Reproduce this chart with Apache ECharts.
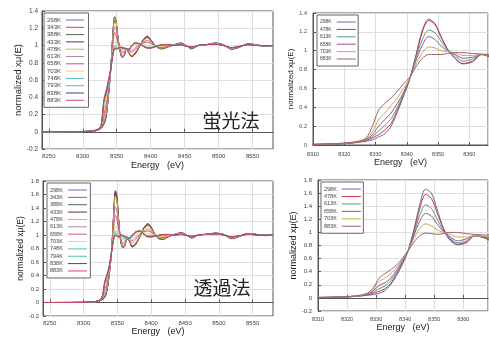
<!DOCTYPE html>
<html>
<head>
<meta charset="utf-8">
<script src="https://cdn.jsdelivr.net/npm/echarts@6.0.0/dist/echarts.min.js"></script>
<style>
  html, body { margin: 0; padding: 0; background: #fff; }
  #main { width: 489px; height: 337px; }
</style>
</head>
<body>
<div id="main"></div>
<script>
// energy grid (eV), shared by all spectra
var energy = [8240, 8300, 8318, 8324, 8327, 8329, 8331, 8333, 8335, 8337, 8339, 8341, 8343, 8345, 8347, 8349, 8351, 8353, 8355, 8358, 8361, 8364, 8368,
    8372, 8377, 8383, 8389, 8395, 8401, 8408, 8416, 8425, 8435, 8445, 8452, 8460, 8470, 8482, 8495, 8507, 8519, 8531, 8543, 8556, 8568, 8580];

// tick labels
var wideTicks = [8250, 8300, 8350, 8400, 8450, 8500, 8550];

// legend names
var fluoLabels = ['298K', '343K', '388K', '433K', '478K', '613K', '658K', '703K', '748K', '793K', '838K', '883K'];
var transLabels = ['298K', '343K', '388K', '433K', '478K', '613K', '658K', '703K', '748K', '794K', '838K', '883K'];
var zoomLabels = ['298K', '478K', '613K', '658K', '703K', '883K'];

// 蛍光法 (fluorescence)
var fluo298 = [0, 0.002, 0.01, 0.025, 0.04, 0.055, 0.085, 0.12, 0.2, 0.35, 0.52, 0.7, 0.96, 1.22, 1.335, 1.29, 1.15, 1.02, 0.93, 0.86, 0.88, 0.96, 0.91,
    0.87, 0.9, 0.98, 1.07, 1.11, 1.06, 0.99, 0.96, 0.98, 1.01, 1.03, 1.0, 0.96, 1.0, 1.01, 1.03, 1.01, 0.955, 0.98, 1.02, 1.01, 0.99, 1.0];
var fluo343 = [0, 0.002, 0.01, 0.025, 0.04, 0.06, 0.09, 0.13, 0.21, 0.35, 0.52, 0.7, 0.96, 1.21, 1.33, 1.285, 1.145, 1.02, 0.93, 0.862, 0.882, 0.958, 0.912,
    0.872, 0.9, 0.98, 1.065, 1.105, 1.055, 0.99, 0.962, 0.982, 1.01, 1.028, 1.0, 0.962, 1.0, 1.01, 1.028, 1.008, 0.958, 0.982, 1.018, 1.008, 0.992, 1.0];
var fluo388 = [0, 0.002, 0.01, 0.026, 0.042, 0.065, 0.095, 0.14, 0.215, 0.36, 0.525, 0.7, 0.955, 1.21, 1.325, 1.28, 1.14, 1.02, 0.935, 0.865, 0.885, 0.958, 0.915,
    0.875, 0.905, 0.982, 1.06, 1.1, 1.05, 0.99, 0.964, 0.984, 1.01, 1.026, 1.0, 0.964, 1.0, 1.01, 1.026, 1.006, 0.96, 0.984, 1.016, 1.006, 0.994, 1.0];
var fluo433 = [0, 0.002, 0.011, 0.027, 0.045, 0.07, 0.1, 0.15, 0.22, 0.365, 0.53, 0.705, 0.955, 1.205, 1.32, 1.28, 1.14, 1.02, 0.935, 0.865, 0.885, 0.958, 0.915,
    0.878, 0.91, 0.985, 1.06, 1.095, 1.045, 0.99, 0.966, 0.985, 1.008, 1.025, 1.0, 0.966, 1.0, 1.01, 1.025, 1.005, 0.962, 0.985, 1.015, 1.005, 0.995, 1.0];
var fluo478 = [0, 0.002, 0.012, 0.028, 0.048, 0.075, 0.11, 0.16, 0.23, 0.37, 0.53, 0.71, 0.95, 1.2, 1.32, 1.28, 1.14, 1.02, 0.94, 0.865, 0.89, 0.96, 0.92,
    0.885, 0.92, 0.99, 1.05, 1.085, 1.04, 0.99, 0.968, 0.987, 1.007, 1.022, 1.0, 0.968, 1.0, 1.01, 1.024, 1.004, 0.964, 0.986, 1.014, 1.004, 0.995, 1.0];
var fluo613 = [0, 0.002, 0.013, 0.03, 0.055, 0.09, 0.15, 0.21, 0.28, 0.4, 0.54, 0.71, 0.93, 1.12, 1.22, 1.19, 1.1, 1.01, 0.96, 0.89, 0.91, 0.96, 0.93,
    0.92, 0.95, 1.0, 1.04, 1.06, 1.03, 0.99, 0.975, 0.99, 1.005, 1.018, 1.0, 0.972, 1.0, 1.01, 1.022, 1.003, 0.968, 0.988, 1.012, 1.003, 0.996, 1.0];
var fluo658 = [0, 0.002, 0.014, 0.032, 0.06, 0.11, 0.2, 0.27, 0.34, 0.44, 0.56, 0.71, 0.9, 1.06, 1.15, 1.12, 1.05, 1.0, 0.97, 0.92, 0.93, 0.96, 0.94,
    0.94, 0.97, 1.01, 1.03, 1.04, 1.02, 0.99, 0.98, 0.995, 1.005, 1.015, 1.0, 0.975, 1.0, 1.01, 1.02, 1.002, 0.97, 0.99, 1.01, 1.002, 0.997, 1.0];
var fluo703 = [0, 0.002, 0.015, 0.034, 0.065, 0.14, 0.27, 0.34, 0.42, 0.5, 0.6, 0.71, 0.86, 0.98, 1.04, 1.03, 1.0, 0.99, 0.98, 0.95, 0.95, 0.96, 0.95,
    0.97, 1.0, 1.02, 1.01, 1.0, 0.995, 0.99, 0.99, 1.0, 1.003, 1.012, 0.998, 0.978, 1.0, 1.01, 1.018, 1.0, 0.972, 0.99, 1.01, 1.002, 0.997, 1.0];
var fluo748 = [0, 0.002, 0.015, 0.035, 0.068, 0.16, 0.32, 0.39, 0.45, 0.53, 0.62, 0.715, 0.84, 0.95, 1.0, 0.99, 0.975, 0.98, 0.98, 0.96, 0.96, 0.965, 0.955,
    0.99, 1.02, 1.025, 1.0, 0.98, 0.98, 0.99, 1.0, 1.005, 1.002, 1.01, 0.995, 0.98, 1.0, 1.01, 1.017, 1.0, 0.973, 0.99, 1.01, 1.001, 0.997, 1.0];
var fluo793 = [0, 0.002, 0.015, 0.036, 0.07, 0.18, 0.34, 0.4, 0.46, 0.54, 0.63, 0.715, 0.83, 0.93, 0.98, 0.975, 0.965, 0.975, 0.98, 0.97, 0.965, 0.965, 0.955,
    0.995, 1.025, 1.025, 0.995, 0.975, 0.975, 0.99, 1.005, 1.008, 1.0, 1.01, 0.993, 0.98, 1.0, 1.01, 1.016, 1.0, 0.974, 0.99, 1.01, 1.001, 0.997, 1.0];
var fluo838 = [0, 0.002, 0.016, 0.037, 0.072, 0.19, 0.36, 0.42, 0.47, 0.55, 0.64, 0.72, 0.82, 0.92, 0.965, 0.965, 0.96, 0.97, 0.98, 0.975, 0.97, 0.965, 0.955,
    1.0, 1.03, 1.022, 0.99, 0.97, 0.972, 0.99, 1.008, 1.01, 1.0, 1.008, 0.992, 0.981, 1.0, 1.01, 1.015, 1.0, 0.975, 0.99, 1.01, 1.0, 0.997, 1.0];
var fluo883 = [0, 0.002, 0.016, 0.038, 0.075, 0.2, 0.37, 0.44, 0.5, 0.57, 0.65, 0.72, 0.83, 0.92, 0.96, 0.96, 0.96, 0.97, 0.98, 0.98, 0.97, 0.965, 0.955,
    1.0, 1.03, 1.02, 0.99, 0.97, 0.97, 0.99, 1.01, 1.01, 1.0, 1.008, 0.99, 0.982, 1.0, 1.01, 1.015, 1.0, 0.975, 0.99, 1.01, 1.0, 0.997, 1.0];

// 透過法 (transmission)
var trans298 = [0, 0.002, 0.01, 0.025, 0.04, 0.05, 0.07, 0.11, 0.2, 0.34, 0.51, 0.72, 1.04, 1.42, 1.66, 1.6, 1.35, 1.08, 0.9, 0.81, 0.84, 0.95, 0.9,
    0.82, 0.86, 0.97, 1.11, 1.17, 1.1, 0.97, 0.93, 0.97, 1.01, 1.035, 1.0, 0.955, 1.0, 1.01, 1.03, 1.01, 0.945, 0.98, 1.025, 1.01, 0.99, 1.0];
var trans343 = [0, 0.002, 0.01, 0.025, 0.041, 0.053, 0.075, 0.115, 0.205, 0.345, 0.51, 0.72, 1.035, 1.41, 1.65, 1.59, 1.34, 1.075, 0.9, 0.812, 0.842, 0.95, 0.9,
    0.823, 0.862, 0.972, 1.105, 1.165, 1.095, 0.972, 0.932, 0.972, 1.01, 1.033, 1.0, 0.957, 1.0, 1.01, 1.028, 1.009, 0.947, 0.981, 1.023, 1.009, 0.991, 1.0];
var trans388 = [0, 0.002, 0.01, 0.026, 0.042, 0.056, 0.08, 0.12, 0.21, 0.35, 0.515, 0.72, 1.03, 1.4, 1.64, 1.58, 1.33, 1.075, 0.905, 0.815, 0.845, 0.95, 0.905,
    0.827, 0.866, 0.975, 1.1, 1.16, 1.09, 0.974, 0.935, 0.974, 1.009, 1.031, 1.0, 0.959, 1.0, 1.01, 1.027, 1.008, 0.95, 0.982, 1.021, 1.008, 0.992, 1.0];
var trans433 = [0, 0.002, 0.011, 0.027, 0.044, 0.06, 0.09, 0.13, 0.215, 0.355, 0.52, 0.72, 1.025, 1.38, 1.62, 1.56, 1.32, 1.07, 0.91, 0.818, 0.848, 0.95, 0.905,
    0.832, 0.872, 0.978, 1.095, 1.15, 1.085, 0.976, 0.938, 0.976, 1.008, 1.03, 1.0, 0.96, 1.0, 1.01, 1.026, 1.007, 0.952, 0.983, 1.02, 1.007, 0.993, 1.0];
var trans478 = [0, 0.002, 0.012, 0.028, 0.047, 0.07, 0.1, 0.14, 0.22, 0.36, 0.52, 0.72, 1.02, 1.36, 1.58, 1.52, 1.3, 1.07, 0.92, 0.82, 0.85, 0.95, 0.91,
    0.845, 0.885, 0.985, 1.085, 1.135, 1.075, 0.978, 0.942, 0.978, 1.007, 1.027, 1.0, 0.962, 1.0, 1.01, 1.025, 1.006, 0.955, 0.984, 1.018, 1.006, 0.994, 1.0];
var trans613 = [0, 0.002, 0.013, 0.03, 0.055, 0.09, 0.14, 0.18, 0.26, 0.39, 0.54, 0.72, 0.98, 1.26, 1.42, 1.37, 1.2, 1.04, 0.93, 0.84, 0.87, 0.95, 0.92,
    0.89, 0.93, 1.0, 1.06, 1.09, 1.05, 0.982, 0.955, 0.983, 1.006, 1.022, 1.0, 0.966, 1.0, 1.01, 1.023, 1.005, 0.96, 0.986, 1.015, 1.005, 0.995, 1.0];
var trans658 = [0, 0.002, 0.014, 0.032, 0.06, 0.11, 0.19, 0.23, 0.3, 0.42, 0.56, 0.72, 0.95, 1.17, 1.29, 1.25, 1.13, 1.02, 0.95, 0.87, 0.9, 0.95, 0.93,
    0.92, 0.96, 1.015, 1.045, 1.06, 1.035, 0.985, 0.965, 0.988, 1.005, 1.018, 1.0, 0.97, 1.0, 1.01, 1.02, 1.004, 0.964, 0.988, 1.013, 1.004, 0.996, 1.0];
var trans703 = [0, 0.002, 0.015, 0.034, 0.065, 0.13, 0.25, 0.3, 0.37, 0.46, 0.58, 0.72, 0.9, 1.06, 1.13, 1.1, 1.04, 1.0, 0.98, 0.93, 0.93, 0.95, 0.94,
    0.96, 1.0, 1.04, 1.03, 1.02, 1.01, 0.99, 0.98, 0.995, 1.003, 1.013, 0.998, 0.975, 1.0, 1.01, 1.018, 1.002, 0.968, 0.99, 1.011, 1.003, 0.997, 1.0];
var trans748 = [0, 0.002, 0.015, 0.035, 0.068, 0.14, 0.27, 0.32, 0.39, 0.47, 0.59, 0.72, 0.88, 1.01, 1.06, 1.04, 1.0, 0.99, 0.99, 0.96, 0.95, 0.955, 0.945,
    0.98, 1.03, 1.055, 1.02, 0.99, 0.99, 0.99, 0.995, 1.0, 1.002, 1.01, 0.996, 0.978, 1.0, 1.01, 1.017, 1.001, 0.97, 0.99, 1.01, 1.002, 0.997, 1.0];
var trans794 = [0, 0.002, 0.015, 0.036, 0.07, 0.145, 0.28, 0.34, 0.4, 0.48, 0.595, 0.72, 0.87, 0.98, 1.03, 1.01, 0.985, 0.985, 0.995, 0.98, 0.965, 0.96, 0.95,
    0.99, 1.04, 1.06, 1.015, 0.98, 0.98, 0.99, 1.0, 1.004, 1.001, 1.009, 0.994, 0.979, 1.0, 1.01, 1.016, 1.0, 0.971, 0.99, 1.01, 1.001, 0.997, 1.0];
var trans838 = [0, 0.002, 0.016, 0.037, 0.072, 0.15, 0.29, 0.36, 0.42, 0.49, 0.6, 0.72, 0.86, 0.96, 1.0, 0.99, 0.975, 0.98, 1.0, 0.99, 0.975, 0.965, 0.955,
    1.0, 1.045, 1.06, 1.01, 0.975, 0.975, 0.99, 1.005, 1.007, 1.0, 1.008, 0.993, 0.98, 1.0, 1.01, 1.015, 1.0, 0.972, 0.99, 1.01, 1.0, 0.997, 1.0];
var trans883 = [0, 0.002, 0.016, 0.038, 0.075, 0.15, 0.3, 0.37, 0.43, 0.5, 0.6, 0.72, 0.85, 0.95, 0.99, 0.98, 0.97, 0.98, 1.0, 1.0, 0.98, 0.97, 0.96,
    1.0, 1.05, 1.06, 1.01, 0.97, 0.97, 0.99, 1.008, 1.01, 1.0, 1.008, 0.992, 0.981, 1.0, 1.01, 1.015, 1.0, 0.973, 0.99, 1.01, 1.0, 0.997, 1.0];

var fluoAll = [fluo298, fluo343, fluo388, fluo433, fluo478, fluo613, fluo658, fluo703, fluo748, fluo793, fluo838, fluo883];
var transAll = [trans298, trans343, trans388, trans433, trans478, trans613, trans658, trans703, trans748, trans794, trans838, trans883];
var fluoZoom = [fluo298, fluo478, fluo613, fluo658, fluo703, fluo883];
var transZoom = [trans298, trans478, trans613, trans658, trans703, trans883];

var wideColors = ['#6a6aaa', '#d8404a', '#4f6f50', '#6a2858', '#c8b848', '#b88898', '#d84898', '#e8e048', '#48c0c0', '#48c8a0', '#404088', '#d84860'];
var zoomColors = ['#6868b0', '#d03040', '#50a070', '#9050a0', '#c0b050', '#a06070'];

var chart = echarts.init(document.getElementById('main'));

var FONT = '"Liberation Sans", Arial, sans-serif';

function makeSeries(label, values, color, ax) {
    return {
        name: label + '#' + ax,
        type: 'line',
        xAxisIndex: ax,
        yAxisIndex: ax,
        data: energy.map(function (e, i) { return [e, values[i]]; }),
        symbol: 'none',
        smooth: 0.3,
        lineStyle: { width: 1, color: color },
        itemStyle: { color: color }
    };
}

var series = [];
var legendNames = [[], [], [], []];
fluoLabels.forEach(function (t, i) { series.push(makeSeries(t, fluoAll[i], wideColors[i], 0)); legendNames[0].push(t + '#0'); });
zoomLabels.forEach(function (t, i) { series.push(makeSeries(t, fluoZoom[i], zoomColors[i], 1)); legendNames[1].push(t + '#1'); });
transLabels.forEach(function (t, i) { series.push(makeSeries(t, transAll[i], wideColors[i], 2)); legendNames[2].push(t + '#2'); });
zoomLabels.forEach(function (t, i) { series.push(makeSeries(t, transZoom[i], zoomColors[i], 3)); legendNames[3].push(t + '#3'); });

function gridBox(left, top, width, height) {
    return { left: left, top: top, width: width, height: height, show: true, borderColor: '#555', borderWidth: 1,
        backgroundColor: 'transparent', outerBoundsMode: 'none', containLabel: false };
}

function xAx(idx, min, max, opts) {
    var a = {
        type: 'value', gridIndex: idx, min: min, max: max,
        name: 'Energy   (eV)', nameLocation: 'middle', nameGap: opts.nameGap,
        nameTextStyle: { fontSize: 9, color: '#222', fontFamily: FONT },
        axisLine: { show: true, lineStyle: { color: '#555', width: 1 } },
        axisTick: { show: true, inside: true, length: 3, lineStyle: { color: '#555' } },
        axisLabel: { fontSize: opts.fs, color: '#444', margin: opts.margin, fontFamily: FONT,
            formatter: function (v) { return String(v); } },
        splitLine: { show: true, lineStyle: { color: '#dedede', width: 1 } }
    };
    if (opts.custom) {
        a.axisTick.customValues = opts.custom;
        a.axisLabel.customValues = opts.custom;
    } else {
        // zoomed panels: 10 eV steps, last label is off the edge
        a.interval = 10;
        a.axisLabel.showMaxLabel = false;
    }
    return a;
}

function yAx(idx, min, max, opts) {
    return {
        type: 'value', gridIndex: idx, min: min, max: max, interval: 0.2,
        name: 'normalized xμ(E)', nameLocation: 'middle', nameGap: opts.nameGap,
        nameTextStyle: { fontSize: opts.nfs, color: '#222', fontFamily: FONT },
        axisLine: { show: true, lineStyle: { color: '#555', width: 1 } },
        axisTick: { show: true, inside: true, length: 3, lineStyle: { color: '#555' } },
        axisLabel: { fontSize: opts.fs, color: '#444', margin: opts.margin, fontFamily: FONT,
            formatter: function (v) { return String(Math.round(v * 10) / 10); } },
        splitLine: { show: true, lineStyle: { color: '#dedede', width: 1 } }
    };
}

function legendBox(idx, left, top, fs, gap, pad, iw) {
    return {
        gridIndex: idx,
        data: legendNames[idx],
        orient: 'vertical', align: 'right',
        left: left, top: top,
        itemWidth: iw, itemHeight: 6, itemGap: gap,
        padding: pad,
        borderColor: '#666', borderWidth: 1, backgroundColor: '#fff',
        selectedMode: false,
        itemStyle: { opacity: 0 },
        lineStyle: { width: 1 },
        textStyle: { fontSize: fs, lineHeight: 6, color: '#444', fontFamily: FONT },
        formatter: function (n) { return n.split('#')[0]; }
    };
}

var option = {
    backgroundColor: '#fff',
    animation: false,
    grid: [
        gridBox(42, 11, 231, 138),
        gridBox(313, 13, 175, 132),
        gridBox(43, 181, 230, 135),
        gridBox(318, 180, 170, 131)
    ],
    xAxis: [
        xAx(0, 8240, 8580, { custom: wideTicks, fs: 6, margin: 4, nameGap: 12 }),
        xAx(1, 8310, 8366, { fs: 5.5, margin: 6, nameGap: 12 }),
        xAx(2, 8240, 8580, { custom: wideTicks, fs: 6, margin: 4, nameGap: 11 }),
        xAx(3, 8310, 8368.5, { fs: 5.5, margin: 5, nameGap: 11 })
    ],
    yAxis: [
        yAx(0, -0.2, 1.4, { fs: 6.5, margin: 4, nameGap: 19, nfs: 9.5 }),
        yAx(1, 0, 1.4, { fs: 5.5, margin: 6, nameGap: 18, nfs: 8 }),
        yAx(2, -0.2, 1.8, { fs: 6, margin: 4, nameGap: 18, nfs: 8.5 }),
        yAx(3, -0.2, 1.8, { fs: 6, margin: 6, nameGap: 20, nfs: 9 })
    ],
    legend: [
        legendBox(0, 44, 13, 6, 1.3, [4, 4, 4, 3], 18),
        legendBox(1, 317, 15, 5, 1.4, [4, 2, 4, 3], 19),
        legendBox(2, 47, 183, 5.5, 1.36, [4, 3, 4, 3], 19),
        legendBox(3, 321, 182, 5.5, 1.45, [4, 2, 4, 3], 19)
    ],
    graphic: [
        { type: 'text', x: 231, y: 121, z: 10,
          style: { text: '蛍光法', fontSize: 19, fontFamily: '"Noto Sans CJK JP"', fill: '#222', align: 'center', verticalAlign: 'middle' } },
        { type: 'text', x: 222, y: 288, z: 10,
          style: { text: '透過法', fontSize: 19, fontFamily: '"Noto Sans CJK JP"', fill: '#222', align: 'center', verticalAlign: 'middle' } }
    ],
    series: series
};

chart.setOption(option);
</script>
</body>
</html>
